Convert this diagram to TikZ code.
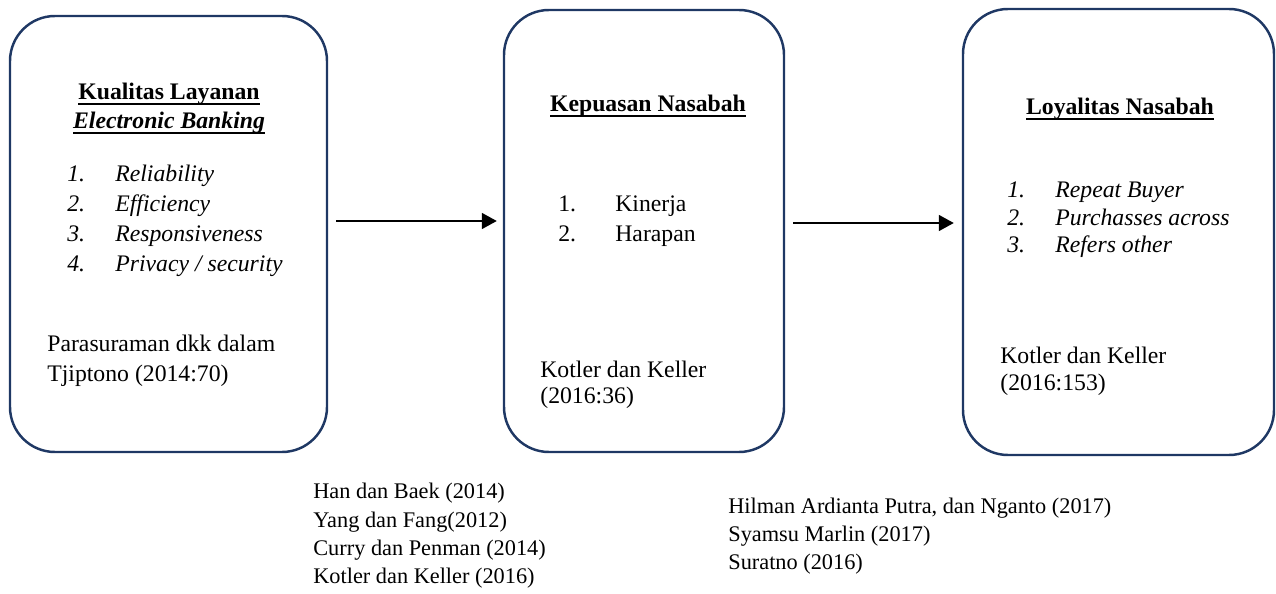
\documentclass[tikz,border=0pt]{standalone}
\usepackage{fontspec}
\setmainfont{Liberation Serif}
\usetikzlibrary{arrows.meta}
\definecolor{navy}{RGB}{31,56,100}
\newcommand{\garis}[1]{\setbox0\hbox{#1}\rlap{\rule[-2.6pt]{\wd0}{0.9pt}}\box0}

\begin{document}
\begin{tikzpicture}[
	every node/.style={font=\fontsize{13.5}{16}\selectfont, inner sep=0pt},
	kotak/.style={draw=navy, line width=1.4pt, rounded corners=0.9cm},
	judul/.style={anchor=base, font=\fontsize{13.5}{16}\selectfont\bfseries},
	teks/.style={anchor=base west},
	rujukan/.style={anchor=base west, font=\fontsize{12.7}{15}\selectfont},
	panah/.style={-{Triangle[length=0.3cm,width=0.32cm]}, line width=1pt}]
	\useasboundingbox (0,0) rectangle (25.52,11.86);
	% kotak variabel
	\node[kotak, minimum width=6.34cm, minimum height=8.72cm] (kualitas) at (3.37,7.18) {};
	\node[kotak, minimum width=5.6cm, minimum height=8.84cm] (kepuasan) at (12.88,7.24) {};
	\node[kotak, minimum width=6.22cm, minimum height=8.92cm] (loyalitas) at (22.37,7.22) {};
	% kualitas layanan
	\node[judul] (j1) at (3.38,9.86) {\garis{Kualitas Layanan}};
	\node[judul] (j1b) at (3.38,9.28) {\garis{\itshape Electronic Banking}};
	\foreach \isi [count=\i] in {Reliability, Efficiency, Responsiveness, {Privacy / security}} {
		\node[teks] (no1-\i) at (1.34,{8.82-0.6*\i}) {\itshape\i.};
		\node[teks] (ind1-\i) at (2.30,{8.82-0.6*\i}) {\itshape\isi};
	}
	\node[teks] (s1a) at (0.94,4.82) {Parasuraman dkk dalam};
	\node[teks] (s1b) at (0.94,4.22) {Tjiptono (2014:70)};
	% kepuasan nasabah
	\node[judul] (j2) at (12.96,9.62) {\garis{Kepuasan Nasabah}};
	\foreach \isi [count=\i] in {Kinerja, Harapan} {
		\node[teks] (no2-\i) at (11.16,{8.22-0.6*\i}) {\i.};
		\node[teks] (ind2-\i) at (12.30,{8.22-0.6*\i}) {\isi};
	}
	\node[teks] (s2a) at (10.80,4.32) {Kotler dan Keller};
	\node[teks] (s2b) at (10.80,3.80) {(2016:36)};
	% loyalitas nasabah
	\node[judul] (j3) at (22.40,9.56) {\garis{Loyalitas Nasabah}};
	\foreach \isi [count=\i] in {Repeat Buyer, Purchasses across, Refers other} {
		\node[teks] (no3-\i) at (20.14,{8.45-0.55*\i}) {\itshape\i.};
		\node[teks] (ind3-\i) at (21.10,{8.45-0.55*\i}) {\itshape\isi};
	}
	\node[teks] (s3a) at (20.00,4.60) {Kotler dan Keller};
	\node[teks] (s3b) at (20.00,4.06) {(2016:153)};
	% panah
	\draw[panah, shorten <=0.16cm, shorten >=0.12cm] ([yshift=0.26cm]kualitas.east) -- ([yshift=0.20cm]kepuasan.west);
	\draw[panah, shorten <=0.16cm, shorten >=0.16cm] ([yshift=0.16cm]kepuasan.east) -- ([yshift=0.18cm]loyalitas.west);
	% sumber penelitian
	\foreach \isi [count=\i] in {Han dan Baek (2014), Yang dan Fang(2012), Curry dan Penman (2014), Kotler dan Keller (2016)}
		\node[rujukan] (r1-\i) at (6.26,{2.45-0.567*\i}) {\isi};
	\foreach \isi [count=\i] in {{Hilman Ardianta Putra, dan Nganto (2017)}, Syamsu Marlin (2017), Suratno (2016)}
		\node[rujukan] (r2-\i) at (14.56,{2.16-0.56*\i}) {\isi};
\end{tikzpicture}
\end{document}
